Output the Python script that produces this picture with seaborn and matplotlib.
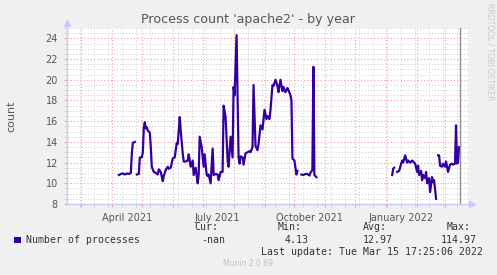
import numpy as np
import pandas as pd
import matplotlib
matplotlib.use("Agg")
import matplotlib.pyplot as plt
import matplotlib.dates as mdates
import matplotlib.transforms as mtransforms
from matplotlib.patches import Rectangle
from matplotlib.ticker import MultipleLocator, FixedLocator
import seaborn as sns

# ---------------- data (day offsets from 2021-04-01) ----------------
BASE_DATE = "2021-04-01"
seg1_days = [7, 9, 11, 13, 15, 17, 19, 20, 21, 23]
seg1_vals = [10.8, 10.9, 10.95, 10.85, 10.95, 10.9, 11.0, 12.9, 13.9, 14.0]

seg2_days = [25, 27, 28, 30, 31, 32, 33, 34, 35, 36, 38, 39, 40, 42, 44, 46, 47, 49,
             51, 52, 54, 56, 57, 59, 61, 63, 65, 66, 68, 69, 71, 72, 74, 76, 77, 79,
             81, 82, 84, 86, 87, 88, 90, 92, 93, 95, 96, 97, 99, 101, 102, 104, 106,
             107, 109, 111, 112, 114, 116, 117, 119, 121, 122, 123, 125, 127, 128,
             129, 131, 132, 134, 136, 138, 139, 141, 142, 144, 146, 147, 149, 151,
             153, 155, 156, 158, 159, 161, 162, 164, 166, 167, 169, 171, 172, 174,
             176, 177, 179, 180, 181, 183, 185, 186]
seg2_vals = [10.85, 10.9, 12.5, 12.5, 13.0, 15.4, 15.9, 15.3, 15.4, 15.1, 14.9, 13.5,
             11.6, 11.1, 11.0, 10.85, 11.35, 11.1, 10.2, 10.7, 11.3, 11.6, 11.4, 11.5,
             12.4, 12.5, 13.9, 13.8, 16.4, 15.1, 12.9, 12.1, 12.1, 12.2, 12.8, 11.6,
             12.2, 10.8, 11.5, 10.0, 10.8, 14.5, 13.5, 11.6, 12.8, 10.85, 10.7, 10.85,
             10.0, 13.35, 10.8, 10.9, 10.85, 10.3, 11.1, 11.1, 17.5, 16.4, 12.2, 11.6,
             14.5, 12.5, 19.3, 18.5, 24.3, 12.5, 11.9, 12.6, 12.5, 11.8, 12.9, 13.0,
             13.1, 13.0, 13.5, 19.5, 13.6, 13.2, 13.8, 15.6, 15.2, 17.1, 16.2, 16.5,
             16.2, 17.1, 19.5, 19.4, 20.0, 19.4, 18.8, 20.0, 18.9, 19.3, 18.8, 19.2,
             19.0, 18.5, 18.0, 12.4, 12.2, 10.85, 11.2]

seg3_days = [190, 192, 194, 196, 198, 199, 201, 202, 203, 205]
seg3_vals = [10.85, 10.8, 10.9, 10.9, 10.75, 11.0, 11.3, 21.25, 10.8, 10.6]

seg4_days = [281, 282, 283]
seg4_vals = [10.8, 11.4, 11.5]

seg5_days = [286, 288, 290, 291, 292, 294, 296, 297, 299, 301, 302, 304, 306, 307,
             308, 310, 311, 312, 314, 315, 316, 318, 319, 321, 322, 323, 325]
seg5_vals = [11.1, 11.2, 11.9, 12.2, 12.0, 12.7, 12.0, 12.2, 12.0, 12.2, 12.1, 11.9,
             11.1, 11.7, 10.8, 11.2, 10.3, 10.8, 10.5, 11.1, 10.0, 10.5, 9.15, 10.6,
             10.1, 10.3, 8.5]

seg6_days = [327, 328, 329, 331, 332, 334, 335, 336, 337, 339, 341, 342, 344, 345,
             346, 347, 348]
seg6_vals = [12.7, 12.7, 11.7, 11.6, 11.9, 11.6, 12.1, 11.6, 11.1, 11.8, 11.9, 11.8,
             11.9, 15.6, 11.9, 12.0, 13.5]

x_labels = ["April 2021", "July 2021", "October 2021", "January 2022"]
x_label_dates = ["2021-04-16", "2021-07-16", "2021-10-16", "2022-01-16"]

legend_name = "Number of processes"
stat_names = ["Cur:", "Min:", "Avg:", "Max:"]
stat_values = ["-nan", "4.13", "12.97", "114.97"]

# ---------------- build frame ----------------
segments = [(seg1_days, seg1_vals), (seg2_days, seg2_vals), (seg3_days, seg3_vals),
            (seg4_days, seg4_vals), (seg5_days, seg5_vals), (seg6_days, seg6_vals)]
rows = []
base = pd.Timestamp(BASE_DATE)
for i, (d, v) in enumerate(segments):
    for dd, vv in zip(d, v):
        rows.append({"date": base + pd.Timedelta(days=dd), "count": vv, "seg": i})
df = pd.DataFrame(rows)

LINE = "#3300a0"
W, H = 497, 275
fig = plt.figure(figsize=(W / 100, H / 100), dpi=100, facecolor="#f0f0f0")
L, R, T, B = 67, 468, 28, 204
ax = fig.add_axes([L / W, 1 - B / H, (R - L) / W, (B - T) / H])
ax.set_facecolor("white")

sns.lineplot(data=df, x="date", y="count", units="seg", estimator=None,
             color=LINE, linewidth=1.6, ax=ax, legend=False)

ax.set_xlim(pd.Timestamp("2021-02-15"), pd.Timestamp("2022-03-24"))
ax.set_ylim(8, 25)

# grid
ax.yaxis.set_major_locator(MultipleLocator(2))
ax.yaxis.set_minor_locator(MultipleLocator(0.5))
ax.xaxis.set_major_locator(mdates.MonthLocator())
minor_dates = pd.date_range("2021-02-28", "2022-03-24", freq="14D")
ax.xaxis.set_minor_locator(FixedLocator(mdates.date2num(minor_dates)))
ax.grid(which="minor", color="#cfcfcf", linestyle=(0, (1, 2)), linewidth=0.7)
ax.grid(which="major", color="#f2a0a0", linestyle=(0, (1, 2)), linewidth=0.8)
ax.set_axisbelow(True)

ax.tick_params(axis="both", which="major", length=2.5, color="#f2a0a0", width=0.8)
ax.tick_params(axis="both", which="minor", length=2.5, color="#cfcfcf", width=0.7)
ax.tick_params(axis="x", which="both", labelbottom=False)
ax.tick_params(axis="y", which="major", labelsize=7, labelcolor="#555555", pad=4)

for s in ["top", "right"]:
    ax.spines[s].set_visible(False)
for s in ["left", "bottom"]:
    ax.spines[s].set_color("#c8c8ff")
    ax.spines[s].set_linewidth(1)

# axis arrows
ax.plot([0, 0], [1, 1.02], transform=ax.transAxes, color="#c8c8ff", lw=1, clip_on=False)
ax.plot([0], [1.03], marker="^", markersize=4, color="#c8c8ff", transform=ax.transAxes, clip_on=False)
ax.plot([1, 1.008], [0, 0], transform=ax.transAxes, color="#c8c8ff", lw=1, clip_on=False)
ax.plot([1.01], [0], marker=">", markersize=4, color="#c8c8ff", transform=ax.transAxes, clip_on=False)

# "now" line
ax.axvline(pd.Timestamp("2022-03-15 17:25"), color="#909090", lw=1)

ax.set_xlabel("")
ax.set_ylabel("count", fontsize=8, color="#555555")
ax.yaxis.set_label_coords((16 - L) / (R - L), 0.5)

trans = mtransforms.blended_transform_factory(ax.transData, ax.transAxes)
for lab, d in zip(x_labels, x_label_dates):
    ax.text(mdates.date2num(pd.Timestamp(d)), -0.05, lab, transform=trans,
            ha="center", va="top", fontsize=7, color="#555555")

def px(x, y):
    return x / W, 1 - y / H

fig.text(*px(248, 19), "Process count 'apache2' - by year", ha="center", va="center",
         fontsize=9.1, color="#555555")
fig.text(*px(490, 52), "RRDTOOL / TOBI OETIKER", ha="center", va="center",
         rotation=270, fontsize=5.5, color="#c8c8c8")

mono = "DejaVu Sans Mono"
fig.patches.append(Rectangle(px(14, 243), 7 / W, 6 / H, transform=fig.transFigure,
                             facecolor=LINE, edgecolor="none"))
fig.text(*px(26, 240), legend_name, ha="left", va="center", family=mono,
         fontsize=7.1, color="#333333")
name_x = [194, 278, 363, 447]
val_x = [201, 285, 363, 441]
for nx, vx, n, v in zip(name_x, val_x, stat_names, stat_values):
    fig.text(*px(nx, 227), n, ha="left", va="center", family=mono, fontsize=7.1, color="#333333")
    fig.text(*px(vx, 240), v, ha="left", va="center", family=mono, fontsize=7.1, color="#333333")
fig.text(*px(483, 252), "Last update: Tue Mar 15 17:25:06 2022", ha="right", va="center",
         family=mono, fontsize=7.1, color="#333333")
fig.text(*px(248, 264), "Munin 2.0.69", ha="center", va="center", fontsize=5.5,
         color="#c0c0c0")

fig.savefig("out.png", dpi=100, facecolor=fig.get_facecolor())
